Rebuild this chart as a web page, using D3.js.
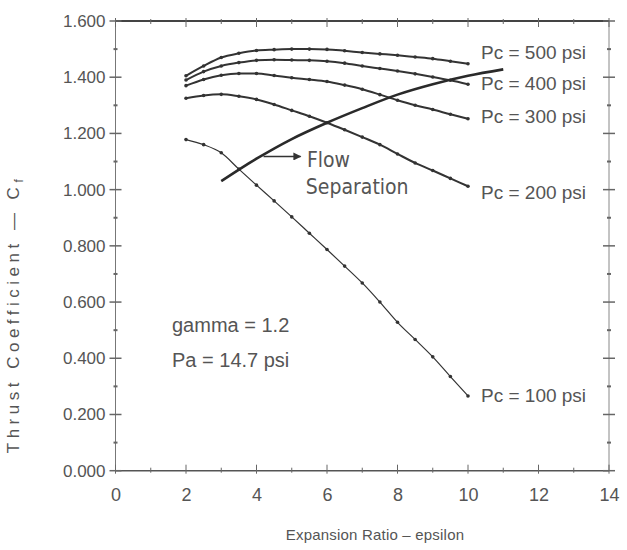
<!DOCTYPE html>
<html>
<head>
<meta charset="utf-8">
<script src="https://cdn.jsdelivr.net/npm/d3@7"></script>
<style>
  body { margin: 0; background: #fff; }
  svg { display: block; }
  text { font-family: "Liberation Sans", Arial, sans-serif; fill: #555; }
  .narrow { font-family: "Liberation Sans Narrow", "DejaVu Sans Condensed", "Liberation Sans", sans-serif; font-stretch: condensed; }
</style>
</head>
<body>
<svg id="chart" width="627" height="550"></svg>
<script>
// data
const epsilon = [2, 2.5, 3, 3.5, 4, 4.5, 5, 5.5, 6, 6.5, 7, 7.5, 8, 8.5, 9, 9.5, 10]

const pc500 = [1.405, 1.44, 1.47, 1.485, 1.495, 1.498, 1.50, 1.50, 1.499, 1.494, 1.488, 1.483, 1.478, 1.472, 1.466, 1.457, 1.448]
const pc400 = [1.39, 1.42, 1.44, 1.452, 1.46, 1.462, 1.461, 1.46, 1.457, 1.45, 1.44, 1.431, 1.422, 1.412, 1.401, 1.389, 1.375]
const pc300 = [1.37, 1.392, 1.407, 1.413, 1.413, 1.406, 1.398, 1.392, 1.385, 1.372, 1.357, 1.338, 1.318, 1.30, 1.285, 1.268, 1.252]
const pc200 = [1.325, 1.335, 1.339, 1.332, 1.321, 1.303, 1.282, 1.261, 1.238, 1.213, 1.187, 1.160, 1.127, 1.095, 1.068, 1.04, 1.012]
const pc100 = [1.178, 1.16, 1.131, 1.073, 1.016, 0.96, 0.903, 0.845, 0.787, 0.728, 0.668, 0.60, 0.528, 0.467, 0.405, 0.335, 0.266]

const sepX = [3, 4, 5, 6, 7, 8, 9, 10, 11]
const sepY = [1.03, 1.11, 1.18, 1.238, 1.29, 1.338, 1.375, 1.405, 1.428]

const seriesNames = ["Pc = 500 psi", "Pc = 400 psi", "Pc = 300 psi", "Pc = 200 psi", "Pc = 100 psi"]
const seriesValues = [pc500, pc400, pc300, pc200, pc100]
const labelOffsets = [-10, 1, -1, 8, 1]   // px nudge of the end labels

const xTicks = [0, 2, 4, 6, 8, 10, 12, 14]
const yTicks = [0, 0.2, 0.4, 0.6, 0.8, 1.0, 1.2, 1.4, 1.6]

const svg = d3.select("#chart")

const x = d3.scaleLinear().domain([0, 14]).range([115.5, 609])
const y = d3.scaleLinear().domain([0, 1.6]).range([470.7, 21])

// frame
const frame = svg.append("g")
frame.append("line").attr("x1", x(0)).attr("x2", x(0)).attr("y1", y(1.6)).attr("y2", y(0))
    .attr("stroke", "#777").attr("stroke-width", 1)
frame.append("line").attr("x1", x(14)).attr("x2", x(14)).attr("y1", y(1.6)).attr("y2", y(0))
    .attr("stroke", "#888").attr("stroke-width", 1)
frame.append("line").attr("x1", x(0)).attr("x2", x(14)).attr("y1", y(0)).attr("y2", y(0))
    .attr("stroke", "#555").attr("stroke-width", 1.5)
frame.append("line").attr("x1", x(0)).attr("x2", x(14)).attr("y1", y(1.6)).attr("y2", y(1.6))
    .attr("stroke", "#444").attr("stroke-width", 2)

// minor / major ticks on all four sides
const xMinor = d3.range(0, 15, 1)
const yMinor = d3.range(0, 1.61, 0.1)
xMinor.forEach(v => {
    const major = v % 2 === 0
    const h = major ? 6 : 3
    frame.append("line").attr("x1", x(v)).attr("x2", x(v)).attr("y1", y(0) - h).attr("y2", y(0) + (major ? 3 : 2))
        .attr("stroke", "#666").attr("stroke-width", 1)
    frame.append("line").attr("x1", x(v)).attr("x2", x(v)).attr("y1", y(1.6) - (major ? 3 : 2)).attr("y2", y(1.6) + h)
        .attr("stroke", "#666").attr("stroke-width", 1)
})
yMinor.forEach((v, i) => {
    const major = i % 2 === 0
    const w = major ? 6 : 2
    frame.append("line").attr("x1", x(0) - w).attr("x2", x(0) + w).attr("y1", y(v)).attr("y2", y(v))
        .attr("stroke", "#666").attr("stroke-width", major ? 1.5 : 2)
    frame.append("line").attr("x1", x(14) - w).attr("x2", x(14) + w).attr("y1", y(v)).attr("y2", y(v))
        .attr("stroke", "#666").attr("stroke-width", major ? 1.5 : 2)
})

// axes labels (d3 axes with no domain path, only text)
const xAxis = d3.axisBottom(x).tickValues(xTicks).tickSize(0).tickPadding(18).tickFormat(d3.format("d"))
const yAxis = d3.axisLeft(y).tickValues(yTicks).tickSize(0).tickPadding(10).tickFormat(d3.format(".3f"))

svg.append("g").attr("transform", `translate(0, ${y(0)})`).call(xAxis)
    .call(g => g.select(".domain").remove())
    .selectAll("text").attr("font-size", 18).attr("fill", "#555")
svg.append("g").attr("transform", `translate(${x(0)}, 0)`).call(yAxis)
    .call(g => g.select(".domain").remove())
    .selectAll("text").attr("font-size", 17).attr("fill", "#555")
svg.selectAll(".tick text").attr("font-family", "'Liberation Sans', Arial, sans-serif")

svg.append("text").attr("x", 375).attr("y", 540).attr("text-anchor", "middle")
    .attr("font-size", 15).attr("letter-spacing", 0.2).text("Expansion Ratio \u2013 epsilon")

const yTitle = svg.append("text").attr("transform", "translate(19, 314) rotate(-90)").attr("text-anchor", "middle")
    .attr("font-size", 17).attr("letter-spacing", 4.5)
yTitle.append("tspan").text("Thrust Coefficient \u2014 C")
yTitle.append("tspan").attr("font-size", 12).attr("dy", 4).text("f")

// curves
const line = d3.line().x(d => x(d[0])).y(d => y(d[1])).curve(d3.curveMonotoneX)

seriesValues.forEach((vals, i) => {
    const pts = epsilon.map((e, j) => [e, vals[j]])
    svg.append("path").datum(pts).attr("d", line)
        .attr("fill", "none").attr("stroke", "#333")
        .attr("stroke-width", i === 4 ? 1.2 : 2)
    svg.append("g").selectAll("circle").data(pts).join("circle")
        .attr("cx", d => x(d[0])).attr("cy", d => y(d[1]))
        .attr("r", 1.8).attr("fill", "#333")
    const last = pts[pts.length - 1]
    svg.append("text").attr("x", x(last[0]) + 13).attr("y", y(last[1]) + labelOffsets[i])
        .attr("font-size", 19).attr("dominant-baseline", "middle").text(seriesNames[i])
})

// flow separation line
const sepPts = sepX.map((e, j) => [e, sepY[j]])
svg.append("path").datum(sepPts).attr("d", line)
    .attr("fill", "none").attr("stroke", "#2a2a2a").attr("stroke-width", 2.6)

// arrow + note
svg.append("defs").append("marker").attr("id", "head").attr("viewBox", "0 0 10 10")
    .attr("refX", 9).attr("refY", 5).attr("markerWidth", 7).attr("markerHeight", 5).attr("orient", "auto")
    .append("path").attr("d", "M0,0 L10,5 L0,10 Z").attr("fill", "#333")
svg.append("line").attr("x1", x(4.2)).attr("x2", x(5.25)).attr("y1", y(1.118)).attr("y2", y(1.118))
    .attr("stroke", "#333").attr("stroke-width", 1.6).attr("marker-end", "url(#head)")
svg.append("text").attr("class", "narrow").attr("x", x(5.43)).attr("y", 167).attr("font-size", 21).text("Flow")
svg.append("text").attr("class", "narrow").attr("x", x(5.4)).attr("y", 194).attr("font-size", 21).text("Separation")

// conditions
svg.append("text").attr("x", 172).attr("y", 332).attr("font-size", 20).text("gamma = 1.2")
svg.append("text").attr("x", 172).attr("y", 367).attr("font-size", 20).text("Pa = 14.7 psi")
</script>
</body>
</html>
